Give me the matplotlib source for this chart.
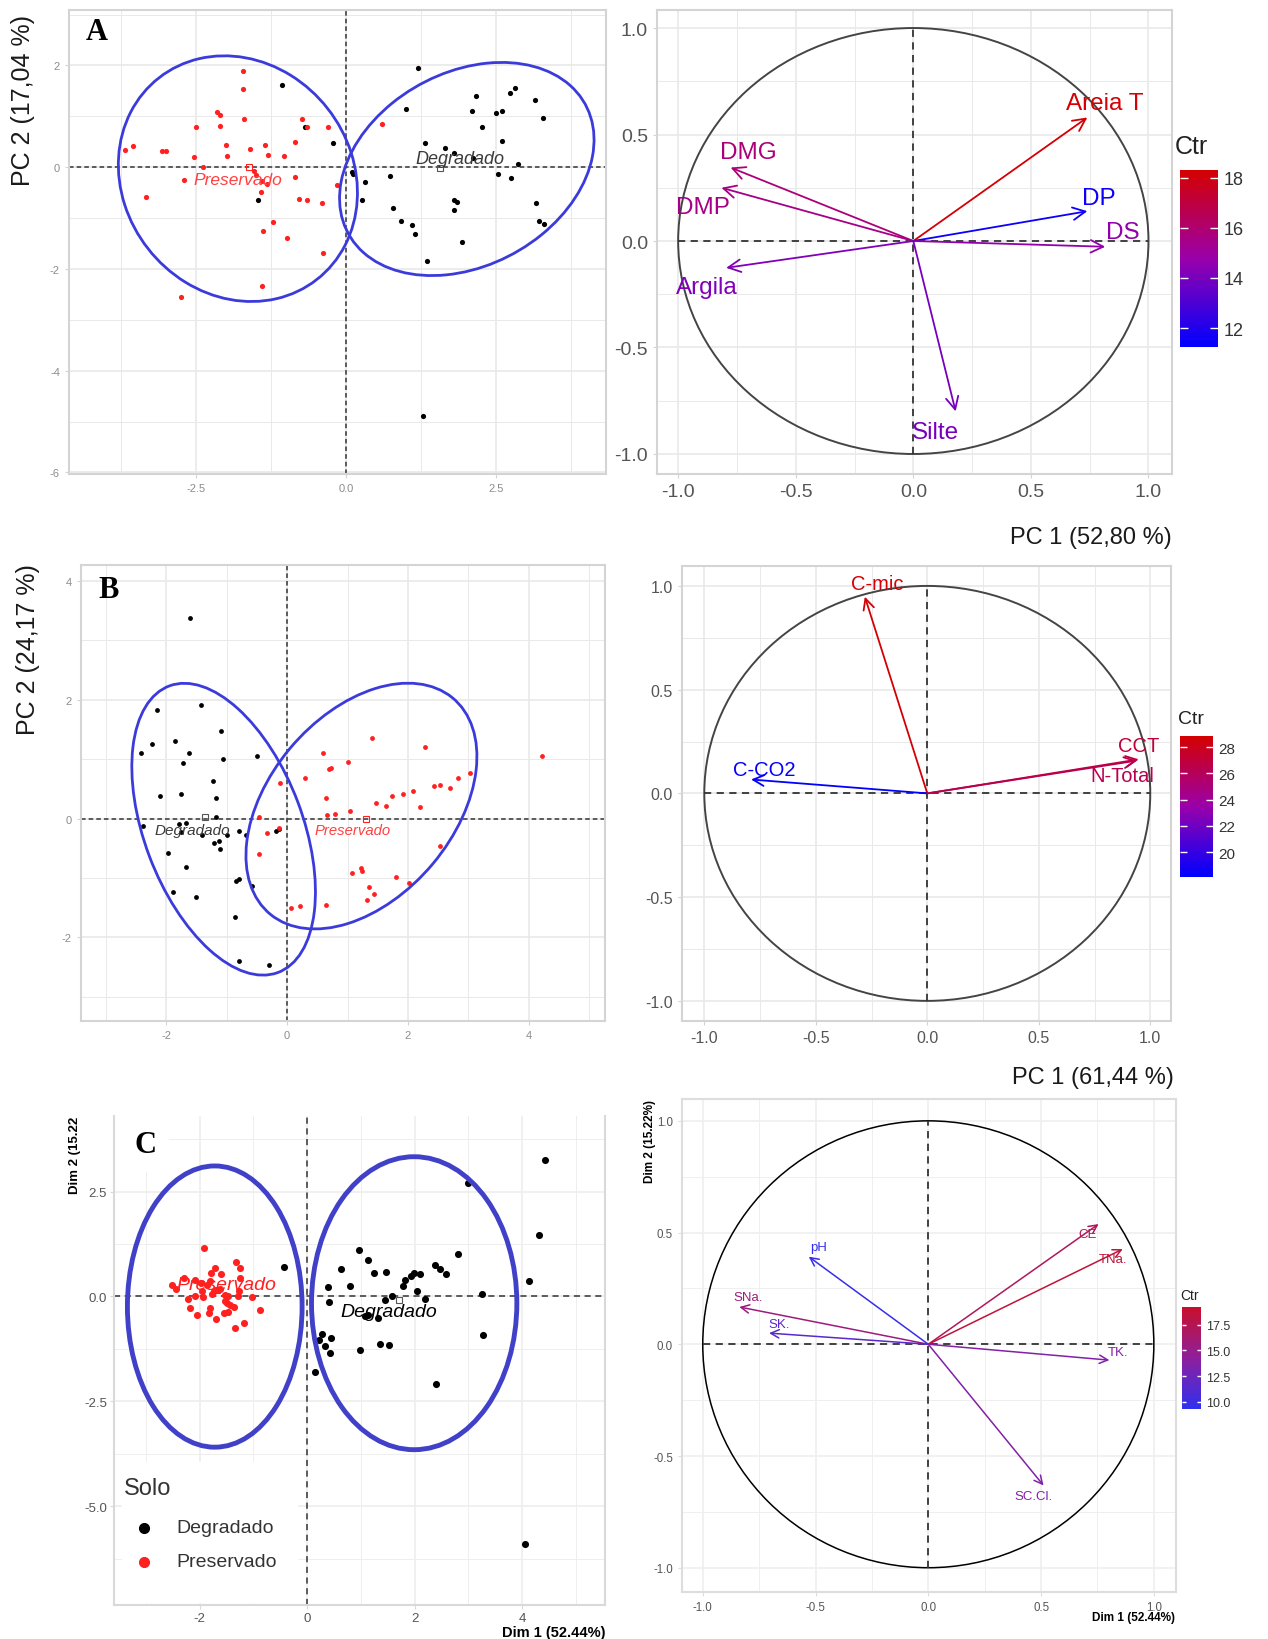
import numpy as np
import matplotlib
matplotlib.use('Agg')
import matplotlib.pyplot as plt
from matplotlib.patches import Ellipse, Circle, Rectangle
from matplotlib.lines import Line2D
from matplotlib.colors import LinearSegmentedColormap, Normalize
from matplotlib.cm import ScalarMappable

plt.rcParams['font.family'] = ['Liberation Sans', 'DejaVu Sans']

# ---------------- panel A : individuals ----------------
A_pres_x = [-1.72, -1.72, -2.16, -2.11, -1.70, -2.51, -2.11, -0.74, -0.66, -0.30, 0.60, -0.85, -3.69, -3.56,
            -3.07, -3.00, -2.53, -2.38, -2.01, -1.98, -1.60, -1.36, -1.31, -1.03, -1.53, -1.50, -1.41, -1.32,
            -2.70, -0.85, -0.16, -1.42, -3.33, -0.79, -0.65, -0.41, -1.22, -1.39, -0.98, -0.39, -1.41, -2.75]
A_pres_y = [1.90, 1.54, 1.08, 1.02, 0.95, 0.79, 0.81, 0.95, 0.79, 0.79, 0.84, 0.49, 0.34, 0.42,
            0.31, 0.31, 0.21, 0.01, 0.44, 0.22, 0.36, 0.44, 0.24, 0.22, -0.08, -0.15, -0.28, -0.33,
            -0.26, -0.19, -0.34, -0.49, -0.59, -0.62, -0.64, -0.70, -1.07, -1.25, -1.40, -1.69, -2.34, -2.55]
A_degr_x = [-1.07, -0.68, -0.22, -1.47, 0.10, 0.12, 0.31, 0.27, 0.73, 0.78, 0.91, 1.09, 1.15, 1.35,
            1.19, 1.00, 1.31, 1.64, 1.80, 2.12, 1.80, 1.85, 1.80, 1.93, 2.16, 2.09, 2.27, 2.50,
            2.60, 2.73, 2.82, 3.15, 3.28, 2.60, 2.53, 2.75, 2.86, 3.16, 3.21, 3.30, 1.28]
A_degr_y = [1.62, 0.79, 0.47, -0.64, -0.10, -0.14, -0.30, -0.64, -0.17, -0.81, -1.06, -1.14, -1.32, -1.85,
            1.95, 1.15, 0.47, 0.37, 0.27, 0.19, -0.64, -0.68, -0.85, -1.47, 1.39, 1.10, 0.79, 1.06,
            1.10, 1.45, 1.56, 1.32, 0.97, 0.51, -0.13, -0.21, 0.06, -0.70, -1.05, -1.11, -4.89]
A_centers = [(-1.62, 0.01), (1.57, -0.02)]          # Preservado, Degradado
A_ellipses = [(-1.805, -0.225, 4.89, 3.91, 105.2),  # cx, cy, width, height, angle
              (2.01, -0.035, 4.76, 3.59, 43.7)]

# ---------------- panel A : variables ----------------
A_vars = ['Areia T', 'DP', 'DS', 'DMG', 'DMP', 'Argila', 'Silte']
A_vx = [0.74, 0.74, 0.816, -0.777, -0.816, -0.796, 0.18]
A_vy = [0.58, 0.14, -0.027, 0.345, 0.25, -0.126, -0.80]
A_ctr = [18.2, 11.5, 14.6, 15.8, 15.5, 14.2, 14.0]
A_lab_x = [0.815, 0.79, 0.89, -0.70, -0.895, -0.878, 0.096]
A_lab_y = [0.65, 0.20, 0.04, 0.42, 0.16, -0.216, -0.895]

# ---------------- panel B : individuals ----------------
B_degr_x = [-1.60, -1.42, -2.16, -1.09, -2.23, -1.86, -2.41, -1.62, -1.72, -1.06, -0.49, -1.23, -1.18,
            -2.11, -1.75, -1.18, -2.39, -1.79, -1.67, -1.75, -1.40, -1.21, -1.12, -1.11, -1.00, -0.79,
            -0.68, -0.18, -0.14, -1.97, -1.67, -0.84, -0.79, -0.58, -1.89, -1.51, -0.86, -0.79, -0.30]
B_degr_y = [3.37, 1.92, 1.82, 1.48, 1.25, 1.31, 1.11, 1.10, 0.93, 1.01, 1.05, 0.64, 0.34,
            0.38, 0.42, 0.02, -0.12, -0.10, -0.08, -0.23, -0.27, -0.42, -0.37, -0.52, -0.28, -0.21,
            -0.27, -0.21, -0.18, -0.58, -0.82, -1.05, -1.02, -1.13, -1.23, -1.32, -1.65, -2.40, -2.47]
B_pres_x = [1.40, 2.29, 4.21, 0.59, 1.01, 0.69, 0.72, 0.30, -0.11, 3.03, 2.82, 2.70, 2.53, 2.43,
            2.09, 1.92, 1.74, 1.47, 1.63, 2.20, 0.64, 1.04, 0.66, 0.80, -0.46, -0.13, -0.33, -0.46,
            2.53, 1.23, 1.08, 1.24, 1.81, 2.01, 1.35, 1.44, 1.32, 0.06, 0.22, 0.65]
B_pres_y = [1.36, 1.21, 1.05, 1.11, 0.96, 0.83, 0.85, 0.68, 0.60, 0.76, 0.68, 0.52, 0.56, 0.55,
            0.46, 0.41, 0.38, 0.27, 0.21, 0.19, 0.34, 0.13, 0.06, 0.07, 0.03, -0.16, -0.24, -0.59,
            -0.46, -0.84, -0.92, -0.89, -0.98, -1.09, -1.15, -1.27, -1.37, -1.51, -1.48, -1.46]
B_centers = [(1.30, 0.0), (-1.36, 0.03)]
B_ellipses = [(1.23, 0.21, 4.73, 3.06, 50.6),
              (-1.05, -0.18, 5.15, 2.62, 110.3)]

# ---------------- panel B : variables ----------------
B_vars = ['C-mic', 'C-CO2', 'CCT', 'N-Total']
B_vx = [-0.28, -0.79, 0.948, 0.94]
B_vy = [0.948, 0.067, 0.164, 0.158]
B_ctr = [28.7, 18.2, 27.0, 26.3]
B_lab_x = [-0.223, -0.73, 0.948, 0.875]
B_lab_y = [1.012, 0.117, 0.233, 0.088]

# ---------------- panel C : individuals ----------------
C_pres_x = [-1.92, -1.72, -1.33, -1.25, -1.79, -1.60, -2.30, -2.08, -1.25, -2.52, -2.45, -1.97, -1.87, -1.80,
            -1.63, -1.73, -1.95, -1.27, -2.08, -1.93, -2.21, -1.77, -1.53, -1.48, -1.29, -1.03, -1.53, -1.50,
            -1.43, -1.37, -2.18, -1.81, -1.82, -2.05, -1.55, -1.47, -0.88, -1.70, -1.17, -1.35, -1.67]
C_pres_y = [1.15, 0.69, 0.81, 0.69, 0.56, 0.54, 0.45, 0.40, 0.45, 0.28, 0.17, 0.32, 0.28, 0.36,
            0.18, 0.13, 0.13, 0.14, 0.02, -0.02, -0.06, 0.06, 0.04, 0.0, 0.0, -0.02, -0.10, -0.16,
            -0.21, -0.26, -0.28, -0.28, -0.40, -0.45, -0.40, -0.37, -0.33, -0.54, -0.62, -0.74, 0.16]
C_degr_x = [4.42, 2.99, 4.31, -0.43, 0.97, 1.13, 0.62, 1.25, 1.47, 0.79, 0.39, 2.80, 2.38, 2.47,
            2.59, 1.98, 2.09, 1.93, 1.81, 1.78, 2.05, 4.13, 3.25, 0.41, 1.45, 1.57, 2.19, 1.07,
            1.13, 1.31, 0.27, 0.22, 0.45, 0.33, 0.42, 1.35, 1.53, 0.98, 3.27, 0.15, 2.39, 4.05]
C_degr_y = [3.25, 2.70, 1.47, 0.70, 1.11, 0.87, 0.66, 0.57, 0.58, 0.26, 0.22, 1.02, 0.75, 0.66,
            0.53, 0.56, 0.53, 0.50, 0.40, 0.26, 0.12, 0.37, 0.06, -0.13, -0.08, 0.0, -0.06, -0.46,
            -0.44, -0.52, -0.90, -1.03, -0.99, -1.19, -1.35, -1.13, -1.15, -1.27, -0.91, -1.81, -2.08, -5.90]
C_centers = [(-1.67, 0.16), (1.70, -0.08)]
C_ellipses = [(-1.72, -0.24, 3.25, 6.70, 0.0),
              (1.99, -0.16, 3.82, 6.98, 0.0)]

# ---------------- panel C : variables ----------------
C_vars = ['pH', 'SNa.', 'SK.', 'CE', 'TNa.', 'TK.', 'SC.Cl.']
C_vx = [-0.53, -0.838, -0.706, 0.755, 0.862, 0.803, 0.511]
C_vy = [0.392, 0.167, 0.05, 0.538, 0.426, -0.071, -0.632]
C_ctr = [9.6, 15.6, 11.4, 17.0, 18.6, 13.6, 13.6]
C_lab_x = [-0.487, -0.80, -0.66, 0.704, 0.82, 0.84, 0.465]
C_lab_y = [0.436, 0.21, 0.09, 0.493, 0.38, -0.033, -0.677]

W, H = 1268, 1640
fig = plt.figure(figsize=(W / 100, H / 100), dpi=100)
cmap = LinearSegmentedColormap.from_list('ctr', ['#0000ff', '#9a00aa', '#d40000'])
cmap_c = LinearSegmentedColormap.from_list('ctr_c', ['#3030f0', '#8e1f9c', '#c8102c'])
RED = '#ff2020'


def box(l, t, r, b):
    return fig.add_axes([l / W, 1 - b / H, (r - l) / W, (b - t) / H])


def ftext(x, y, s, **kw):
    fig.text(x / W, 1 - y / H, s, **kw)


def base(ax, xlim, ylim, xt, xtl, yt, ytl, xm, ym, fs, tcol, frame='#d4d4d4', grid='#e9e9e9', pad=3.5):
    ax.set_xlim(xlim)
    ax.set_ylim(ylim)
    ax.set_xticks(xt)
    ax.set_xticklabels(xtl)
    ax.set_yticks(yt)
    ax.set_yticklabels(ytl)
    ax.set_xticks(xm, minor=True)
    ax.set_yticks(ym, minor=True)
    ax.grid(True, which='major', color=grid, lw=1.2)
    ax.grid(True, which='minor', color=grid, lw=0.7)
    ax.set_axisbelow(True)
    for s in ax.spines.values():
        s.set_color(frame)
        s.set_linewidth(1.5)
    ax.tick_params(which='major', labelsize=fs, labelcolor=tcol, color=frame, length=3, pad=pad)
    ax.tick_params(which='minor', length=0)


def individuals(ax, px, py, dx, dy, size, centers, ells, ecol, elw, dash):
    ax.axhline(0, color='#333333', lw=1.1, ls=dash, zorder=1)
    ax.axvline(0, color='#333333', lw=1.1, ls=dash, zorder=1)
    ax.scatter(dx, dy, s=size, color='black', lw=0, zorder=3)
    ax.scatter(px, py, s=size, color=RED, lw=0, zorder=3)
    ax.plot(*centers[0], marker='s', ms=4, mfc='none', mec=RED, mew=0.8, zorder=3)
    ax.plot(*centers[1], marker='s', ms=4, mfc='none', mec='#555555', mew=0.8, zorder=3)
    for cx, cy, w, h, ang in ells:
        ax.add_patch(Ellipse((cx, cy), w, h, angle=ang, fill=False, ec=ecol, lw=elw, zorder=4))


def variables(ax, names, vx, vy, ctr, lx, ly, vmin, vmax, fs, lw, ms, ccol, clw, cm_):
    norm = Normalize(vmin, vmax)
    ax.add_patch(Circle((0, 0), 1, fill=False, ec=ccol, lw=clw, zorder=2))
    ax.plot([-1, 1], [0, 0], color='#333333', lw=1.3, ls=(0, (4, 3)), zorder=2)
    ax.plot([0, 0], [-1, 1], color='#333333', lw=1.3, ls=(0, (4, 3)), zorder=2)
    for n, x, y, c, tx, ty in zip(names, vx, vy, ctr, lx, ly):
        col = cm_(norm(c))
        ax.annotate('', xy=(x, y), xytext=(0, 0),
                    arrowprops=dict(arrowstyle='->,head_length=0.6,head_width=0.3', color=col, lw=lw,
                                    shrinkA=0, shrinkB=0, mutation_scale=ms), zorder=3)
        ax.text(tx, ty, n, color=col, fontsize=fs, ha='center', va='center', zorder=4)


def cbar(l, t, r, b, vmin, vmax, ticks, labels, fs, title, tfs, tx, ty, tlen, cm_):
    cax = box(l, t, r, b)
    cb = fig.colorbar(ScalarMappable(Normalize(vmin, vmax), cm_), cax=cax, ticks=ticks)
    cb.outline.set_visible(False)
    cb.ax.set_yticklabels(labels)
    cax.tick_params(direction='in', left=True, right=True, color='white', length=tlen, width=1,
                    labelsize=fs, labelcolor='#333333', pad=4)
    ftext(tx, ty, title, fontsize=tfs, color='#222222', ha='left', va='center')


circ_major = [-1.0, -0.5, 0.0, 0.5, 1.0]
circ_lab = ['-1.0', '-0.5', '0.0', '0.5', '1.0']
circ_minor = [-0.75, -0.25, 0.25, 0.75]

# ======== A ========
ax = box(69, 10.5, 606, 475)
base(ax, (-4.62, 4.33), (-6.03, 3.1), [-2.5, 0, 2.5], ['-2.5', '0.0', '2.5'],
     [2, 0, -2, -4, -6], ['2', '0', '-2', '-4', '-6'], [-3.75, -1.25, 1.25, 3.75], [-5, -3, -1, 1, 3],
     8, '#8c8c8c')
individuals(ax, A_pres_x, A_pres_y, A_degr_x, A_degr_y, 14, A_centers, A_ellipses, '#3b3bdc', 2.0, (0, (3, 2)))
ax.text(-1.8, -0.25, 'Preservado', color='#ff4040', fontsize=12.5, style='italic', ha='center', va='center', zorder=5)
ax.text(1.9, 0.18, 'Degradado', color='#3a3a3a', fontsize=13, style='italic', ha='center', va='center', zorder=5)
ftext(97, 33, 'A', fontsize=22, fontweight='bold', family='Liberation Serif', ha='center', va='center')
ftext(23, 100, 'PC 2 (17,04 %)', fontsize=18, rotation=90, ha='center', va='center', color='#1a1a1a')

ax = box(657, 10.5, 1172, 475)
base(ax, (-1.09, 1.10), (-1.094, 1.087), circ_major, circ_lab, circ_major, circ_lab, circ_minor, circ_minor,
     14, '#555555')
variables(ax, A_vars, A_vx, A_vy, A_ctr, A_lab_x, A_lab_y, 11.25, 18.3, 17.5, 1.3, 15, '#444444', 1.4, cmap)
cbar(1180, 171, 1218, 348, 11.25, 18.3, [12, 14, 16, 18], ['12', '14', '16', '18'], 13,
     'Ctr', 18, 1175, 147, 6, cmap)
ftext(1172, 538, 'PC 1 (52,80 %)', fontsize=17, ha='right', va='center', color='#1a1a1a')

# ======== B ========
ax = box(81, 566, 605, 1022)
base(ax, (-3.41, 5.26), (-3.41, 4.27), [-2, 0, 2, 4], ['-2', '0', '2', '4'],
     [4, 2, 0, -2], ['4', '2', '0', '-2'], [-3, -1, 1, 3, 5], [3, 1, -1, -3], 8, '#8c8c8c')
individuals(ax, B_pres_x, B_pres_y, B_degr_x, B_degr_y, 12, B_centers, B_ellipses, '#3b3bdc', 2.0, (0, (3, 2)))
ax.text(-1.56, -0.2, 'Degradado', color='#3a3a3a', fontsize=11, style='italic', ha='center', va='center', zorder=5)
ax.text(1.09, -0.2, 'Preservado', color='#ff4040', fontsize=10.7, style='italic', ha='center', va='center', zorder=5)
ftext(109, 590, 'B', fontsize=22, fontweight='bold', family='Liberation Serif', ha='center', va='center')
ftext(28, 650, 'PC 2 (24,17 %)', fontsize=18, rotation=90, ha='center', va='center', color='#1a1a1a')

ax = box(682, 567, 1171, 1022)
base(ax, (-1.10, 1.093), (-1.097, 1.096), circ_major, circ_lab, circ_major, circ_lab, circ_minor, circ_minor,
     11.5, '#555555')
variables(ax, B_vars, B_vx, B_vy, B_ctr, B_lab_x, B_lab_y, 18.1, 28.85, 14.5, 1.3, 13, '#444444', 1.4, cmap)
cbar(1180, 737, 1213, 878, 18.1, 28.85, [20, 22, 24, 26, 28], ['20', '22', '24', '26', '28'], 11,
     'Ctr', 14, 1178, 720, 5, cmap)
ftext(1174, 1078, 'PC 1 (61,44 %)', fontsize=17, ha='right', va='center', color='#1a1a1a')

# ======== C ========
ax = box(113.7, 1117, 605, 1606)
base(ax, (-3.6, 5.54), (-7.35, 4.3), [-2, 0, 2, 4], ['-2', '0', '2', '4'],
     [2.5, 0, -2.5, -5], ['2.5', '0.0', '-2.5', '-5.0'], [-3, -1, 1, 3, 5], [3.75, 1.25, -1.25, -3.75, -6.25],
     9.5, '#555555', frame='#d9d9d9', grid='#eeeeee', pad=2)
ax.spines['top'].set_visible(False)
individuals(ax, C_pres_x, C_pres_y, C_degr_x, C_degr_y, 26, C_centers, C_ellipses, '#4040c8', 3.5, (0, (4, 3)))
ax.text(-1.5, 0.28, 'Preservado', color=RED, fontsize=14, style='italic', ha='center', va='center', zorder=5)
ax.text(1.52, -0.36, 'Degradado', color='black', fontsize=14, style='italic', ha='center', va='center', zorder=5)
ax.add_patch(Rectangle((115 / W, 1 - 1172 / H), 53 / W, 55 / H, transform=fig.transFigure,
                       color='white', zorder=0.9))
ax.add_patch(Rectangle((122 / W, 1 - 1603 / H), 175 / W, 140 / H, transform=fig.transFigure,
                       color='white', zorder=0.9))
ftext(145, 1146, 'C', fontsize=22, fontweight='bold', family='Liberation Serif', ha='center', va='center')
ftext(75, 1117, 'Dim 2 (15.22', fontsize=9.5, fontweight='bold', rotation=90, ha='center', va='top')
ftext(606, 1633, 'Dim 1 (52.44%)', fontsize=10.5, fontweight='bold', ha='right', va='center')
# legend
ftext(124, 1489, 'Solo', fontsize=17, color='#333333', ha='left', va='center')
fig.add_artist(Line2D([143.5 / W], [1 - 1529 / H], marker='o', ms=7, color='black', lw=0))
fig.add_artist(Line2D([143.5 / W], [1 - 1563 / H], marker='o', ms=7, color=RED, lw=0))
ftext(176, 1529, 'Degradado', fontsize=14, color='#333333', ha='left', va='center')
ftext(176, 1563, 'Preservado', fontsize=14, color='#333333', ha='left', va='center')

ax = box(682, 1099.5, 1175.5, 1593.3)
base(ax, (-1.092, 1.096), (-1.11, 1.10), circ_major, circ_lab, circ_major, circ_lab, circ_minor, circ_minor,
     8.3, '#555555', frame='#dddddd', grid='#efefef')
variables(ax, C_vars, C_vx, C_vy, C_ctr, C_lab_x, C_lab_y, 9.3, 19.2, 9.5, 1.1, 10, 'black', 1.1, cmap_c)
cbar(1182, 1308, 1201, 1410, 9.3, 19.2, [10, 12.5, 15, 17.5], ['10.0', '12.5', '15.0', '17.5'], 9,
     'Ctr', 10, 1180, 1296, 3, cmap_c)
ftext(650, 1100, 'Dim 2 (15.22%)', fontsize=8.5, fontweight='bold', rotation=90, ha='center', va='top')
ftext(1175, 1618, 'Dim 1 (52.44%)', fontsize=8.5, fontweight='bold', ha='right', va='center')

fig.savefig('out.png', dpi=100)
